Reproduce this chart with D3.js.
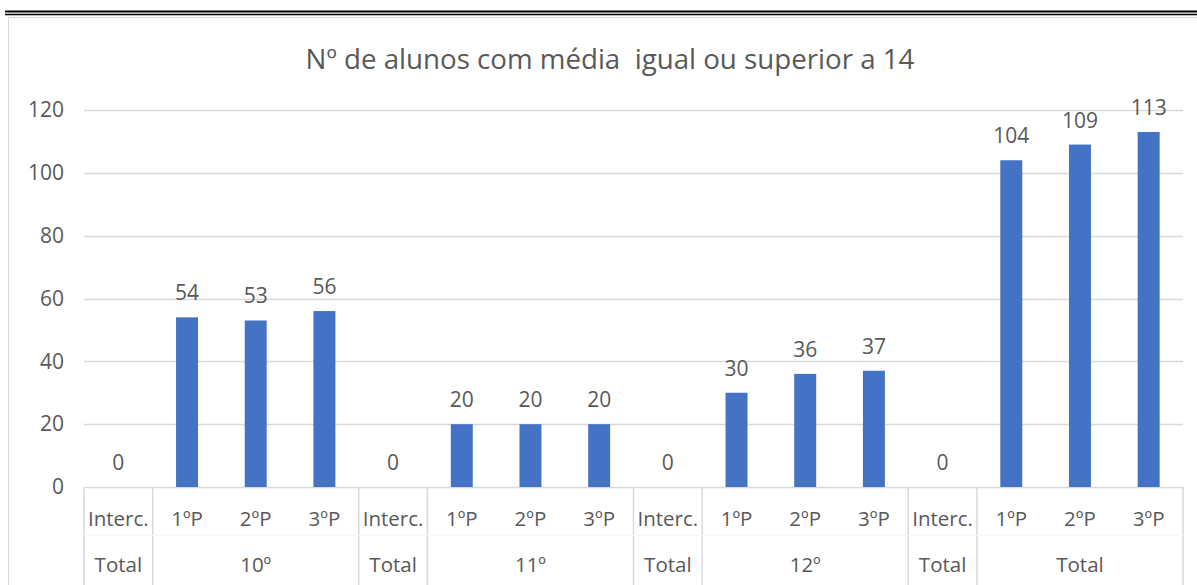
<!DOCTYPE html>
<html>
<head>
<meta charset="utf-8">
<script src="https://cdn.jsdelivr.net/npm/d3@7"></script>
<style>
  body { margin: 0; background: #fff; }
  text { font-family: "Open Sans", "Noto Sans", sans-serif; fill: #595959; }
</style>
</head>
<body>
<div id="chart"></div>
<script>
// data
var groups = ["Total", "10º", "Total", "11º", "Total", "12º", "Total", "Total"];
var groupSize = [1, 3, 1, 3, 1, 3, 1, 3];
var periods = ["Interc.", "1ºP", "2ºP", "3ºP", "Interc.", "1ºP", "2ºP", "3ºP",
               "Interc.", "1ºP", "2ºP", "3ºP", "Interc.", "1ºP", "2ºP", "3ºP"];
var values = [0, 54, 53, 56, 0, 20, 20, 20, 0, 30, 36, 37, 0, 104, 109, 113];
var yTicks = [0, 20, 40, 60, 80, 100, 120];

var width = 1197, height = 585;
var margin = {top: 110, right: 14, bottom: 98, left: 84};

var svg = d3.select("#chart").append("svg")
  .attr("width", width)
  .attr("height", height);

// double rule at the top of the page
svg.append("line").attr("x1", 5).attr("x2", width).attr("y1", 11.5).attr("y2", 11.5)
  .attr("stroke", "#000").attr("stroke-width", 2);
svg.append("line").attr("x1", 5).attr("x2", width).attr("y1", 14.5).attr("y2", 14.5)
  .attr("stroke", "#000").attr("stroke-width", 1.5);

// chart frame
svg.append("path")
  .attr("d", "M8.5," + height + "V17.5H" + width)
  .attr("fill", "none").attr("stroke", "#d9d9d9");

var x = d3.scaleBand()
  .domain(d3.range(values.length))
  .range([margin.left, width - margin.right])
  .paddingInner(0).paddingOuter(0);

var y = d3.scaleLinear()
  .domain([0, 120])
  .range([height - margin.bottom, margin.top]);

// gridlines
svg.append("g")
  .selectAll("line")
  .data(yTicks)
  .join("line")
  .attr("x1", margin.left).attr("x2", width - margin.right)
  .attr("y1", d => Math.round(y(d)) + 0.5).attr("y2", d => Math.round(y(d)) + 0.5)
  .attr("stroke", "#d9d9d9").attr("stroke-width", 1.3);

// y axis labels
var yAxis = d3.axisLeft(y).tickValues(yTicks).tickSize(0).tickPadding(20);
svg.append("g")
  .attr("transform", "translate(" + margin.left + ",0)")
  .call(yAxis)
  .call(g => g.select(".domain").remove())
  .selectAll("text")
  .style("font-size", "21px").attr("fill", "#595959");

// bars
var barW = x.bandwidth() * 0.32;
svg.append("g")
  .selectAll("rect")
  .data(values)
  .join("rect")
  .attr("x", (d, i) => x(i) + (x.bandwidth() - barW) / 2)
  .attr("width", barW)
  .attr("y", d => y(d))
  .attr("height", d => y(0) - y(d))
  .attr("fill", "#4472c4");

// data labels
svg.append("g")
  .selectAll("text")
  .data(values)
  .join("text")
  .attr("x", (d, i) => x(i) + x.bandwidth() / 2)
  .attr("y", d => y(d) - 17)
  .attr("text-anchor", "middle")
  .style("font-size", "21px")
  .text(d => d);

// category rows
var row1 = height - margin.bottom;
svg.append("g")
  .selectAll("text")
  .data(periods)
  .join("text")
  .attr("x", (d, i) => x(i) + x.bandwidth() / 2)
  .attr("y", row1 + 39)
  .attr("text-anchor", "middle")
  .style("font-size", "20.5px")
  .text(d => d);

var starts = [];
var acc = 0;
groupSize.forEach(function(n) { starts.push(acc); acc += n; });

svg.append("g")
  .selectAll("text")
  .data(groups)
  .join("text")
  .attr("x", (d, i) => x(starts[i]) + groupSize[i] * x.bandwidth() / 2)
  .attr("y", row1 + 85)
  .attr("text-anchor", "middle")
  .style("font-size", "20.5px")
  .text(d => d);

// separators between groups
var seps = starts.concat([values.length]);
svg.append("g")
  .selectAll("line")
  .data(seps)
  .join("line")
  .attr("x1", d => d === values.length ? width - margin.right : x(d))
  .attr("x2", d => d === values.length ? width - margin.right : x(d))
  .attr("y1", row1).attr("y2", height)
  .attr("stroke", "#d9d9d9").attr("stroke-width", 1.5);

// faint line between the two rows
svg.append("line")
  .attr("x1", margin.left).attr("x2", width - margin.right)
  .attr("y1", row1 + 48.5).attr("y2", row1 + 48.5)
  .attr("stroke", "#f7f7f7");

// title
svg.append("text")
  .attr("x", 610).attr("y", 69)
  .attr("text-anchor", "middle")
  .style("font-size", "27.7px")
  .attr("xml:space", "preserve")
  .text("Nº de alunos com média  igual ou superior a 14");
</script>
</body>
</html>
